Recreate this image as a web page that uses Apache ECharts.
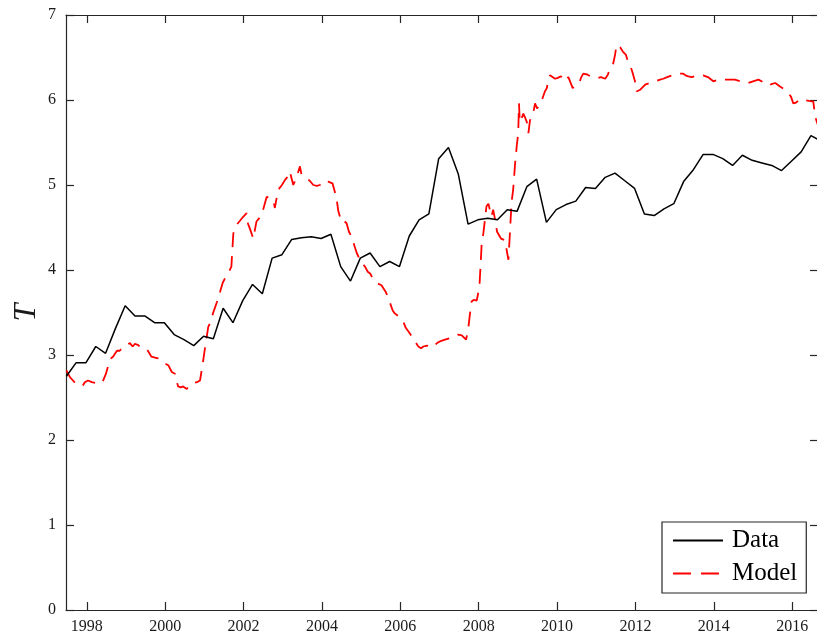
<!DOCTYPE html>
<html><head><meta charset="utf-8">
<script src="https://cdn.jsdelivr.net/npm/echarts@6/dist/echarts.min.js"></script>
<style>html,body{margin:0;padding:0;background:#fff}#c{width:817px;height:641px}</style>
</head><body><div id="c"></div>
<script>
// ---- chart data ----
const xTickYears = [1998, 2000, 2002, 2004, 2006, 2008, 2010, 2012, 2014, 2016];
const yTickValues = [0, 1, 2, 3, 4, 5, 6, 7];
const seriesNames = ['Data', 'Model'];

// "Data": quarterly observations starting 1997.48
const dataStartYear = 1997.48;
const dataStepYears = 0.25;
const dataValues = [
  2.75, 2.91, 2.91, 3.10, 3.02, 3.31, 3.58, 3.46, 3.46, 3.38,
  3.38, 3.24, 3.18, 3.11, 3.22, 3.19, 3.55, 3.38, 3.64, 3.83,
  3.72, 4.14, 4.18, 4.36, 4.38, 4.39, 4.37, 4.42, 4.04, 3.87,
  4.14, 4.20, 4.04, 4.10, 4.04, 4.40, 4.59, 4.66, 5.31, 5.44,
  5.13, 4.54, 4.59, 4.61, 4.59, 4.71, 4.69, 4.98, 5.07, 4.56,
  4.71, 4.77, 4.81, 4.97, 4.96, 5.09, 5.14, 5.05, 4.96, 4.66,
  4.64, 4.72, 4.78, 5.04, 5.18, 5.36, 5.36, 5.31, 5.23, 5.35,
  5.29, 5.26, 5.23, 5.17, 5.28, 5.39, 5.58, 5.52
];

// "Model": points
const modelYears = [
  1997.48, 1997.57, 1997.65, 1997.72, 1997.78, 1997.90, 1997.95, 1998.03, 1998.13, 1998.25,
  1998.33, 1998.41, 1998.49, 1998.59, 1998.67, 1998.77, 1998.84, 1998.94, 1999.02, 1999.10,
  1999.17, 1999.23, 1999.30, 1999.40, 1999.48, 1999.56, 1999.65, 1999.74, 1999.82, 1999.91,
  1999.99, 2000.08, 2000.17, 2000.25, 2000.33, 2000.40, 2000.46, 2000.55, 2000.63, 2000.71,
  2000.81, 2000.89, 2000.96, 2001.01, 2001.10, 2001.17, 2001.22, 2001.32, 2001.40, 2001.47,
  2001.57, 2001.63, 2001.69, 2001.74, 2001.78, 2001.82, 2001.91, 2001.98, 2002.08, 2002.11,
  2002.16, 2002.25, 2002.33, 2002.42, 2002.50, 2002.59, 2002.67, 2002.76, 2002.80, 2002.88,
  2002.98, 2003.06, 2003.13, 2003.18, 2003.27, 2003.36, 2003.44, 2003.48, 2003.54, 2003.61,
  2003.69, 2003.78, 2003.87, 2003.95, 2004.05, 2004.16, 2004.27, 2004.33, 2004.38, 2004.42,
  2004.50, 2004.56, 2004.63, 2004.69, 2004.76, 2004.84, 2004.89, 2004.97, 2005.02, 2005.10,
  2005.17, 2005.23, 2005.30, 2005.35, 2005.43, 2005.52, 2005.63, 2005.69, 2005.74, 2005.81,
  2005.86, 2005.97, 2006.08, 2006.14, 2006.25, 2006.35, 2006.46, 2006.53, 2006.59, 2006.68,
  2006.76, 2006.84, 2006.94, 2007.01, 2007.14, 2007.27, 2007.40, 2007.48, 2007.57, 2007.68,
  2007.74, 2007.78, 2007.82, 2007.88, 2007.95, 2008.02, 2008.08, 2008.12, 2008.20, 2008.25,
  2008.29, 2008.33, 2008.37, 2008.42, 2008.47, 2008.50, 2008.57, 2008.67, 2008.72, 2008.76,
  2008.80, 2008.84, 2008.88, 2008.93, 2008.97, 2009.01, 2009.03, 2009.05, 2009.11, 2009.14,
  2009.18, 2009.23, 2009.27, 2009.31, 2009.36, 2009.39, 2009.44, 2009.49, 2009.52, 2009.57,
  2009.63, 2009.69, 2009.74, 2009.77, 2009.82, 2009.87, 2009.95, 2010.02, 2010.10, 2010.20,
  2010.29, 2010.33, 2010.40, 2010.48, 2010.57, 2010.61, 2010.67, 2010.77, 2010.89, 2010.97,
  2011.05, 2011.12, 2011.23, 2011.30, 2011.35, 2011.40, 2011.43, 2011.48, 2011.52, 2011.61,
  2011.68, 2011.76, 2011.81, 2011.86, 2011.91, 2011.99, 2012.03, 2012.12, 2012.25, 2012.37,
  2012.50, 2012.63, 2012.71, 2012.81, 2012.93, 2013.04, 2013.14, 2013.22, 2013.32, 2013.44,
  2013.52, 2013.65, 2013.73, 2013.85, 2013.99, 2014.11, 2014.26, 2014.39, 2014.54, 2014.67,
  2014.77, 2014.88, 2015.00, 2015.14, 2015.26, 2015.39, 2015.49, 2015.57, 2015.69, 2015.82,
  2015.90, 2015.97, 2016.03, 2016.10, 2016.20, 2016.33, 2016.43, 2016.54, 2016.59, 2016.64,
  2016.70
];
const modelValues = [
  2.82, 2.74, 2.70, 2.66, 2.65, 2.64, 2.68, 2.70, 2.68, 2.67,
  2.70, 2.69, 2.78, 2.95, 2.98, 3.05, 3.05, 3.10, 3.12, 3.14,
  3.10, 3.13, 3.12, 3.08, 3.08, 3.05, 2.98, 2.97, 2.96, 2.92,
  2.90, 2.88, 2.80, 2.78, 2.63, 2.62, 2.63, 2.60, 2.64, 2.67,
  2.68, 2.70, 2.90, 3.06, 3.33, 3.40, 3.49, 3.62, 3.74, 3.85,
  3.94, 3.98, 4.04, 4.43, 4.45, 4.53, 4.58, 4.62, 4.67, 4.55,
  4.49, 4.37, 4.57, 4.62, 4.71, 4.86, 4.85, 4.82, 4.73, 4.94,
  5.00, 5.06, 5.10, 5.16, 5.00, 5.10, 5.22, 5.12, 5.10, 5.08,
  5.05, 5.00, 4.99, 5.00, 5.05, 5.04, 5.02, 4.92, 4.82, 4.69,
  4.57, 4.58, 4.55, 4.45, 4.39, 4.27, 4.20, 4.12, 4.08, 4.04,
  3.98, 3.96, 3.90, 3.88, 3.84, 3.82, 3.74, 3.68, 3.61, 3.52,
  3.49, 3.45, 3.39, 3.32, 3.25, 3.18, 3.10, 3.08, 3.10, 3.11,
  3.09, 3.10, 3.14, 3.16, 3.18, 3.20, 3.22, 3.24, 3.23, 3.18,
  3.33, 3.49, 3.63, 3.65, 3.64, 3.80, 4.33, 4.43, 4.75, 4.78,
  4.70, 4.63, 4.71, 4.59, 4.45, 4.43, 4.37, 4.35, 4.33, 4.12,
  4.45, 4.80, 4.94, 5.25, 5.45, 5.61, 5.96, 5.74, 5.80, 5.84,
  5.80, 5.74, 5.61, 5.76, 5.80, 5.84, 5.96, 5.90, 5.88, 5.95,
  6.02, 6.10, 6.14, 6.22, 6.29, 6.27, 6.25, 6.26, 6.28, 6.22,
  6.27, 6.25, 6.14, 6.17, 6.20, 6.26, 6.31, 6.30, 6.27, 6.27,
  6.26, 6.27, 6.25, 6.30, 6.38, 6.40, 6.42, 6.53, 6.65, 6.62,
  6.57, 6.53, 6.45, 6.41, 6.35, 6.22, 6.10, 6.12, 6.18, 6.20,
  6.22, 6.24, 6.25, 6.27, 6.29, 6.30, 6.31, 6.31, 6.28, 6.27,
  6.28, 6.28, 6.29, 6.27, 6.22, 6.24, 6.24, 6.24, 6.24, 6.22,
  6.21, 6.20, 6.22, 6.24, 6.21, 6.17, 6.19, 6.20, 6.16, 6.12,
  6.08, 6.04, 5.96, 5.97, 6.01, 6.00, 5.99, 5.98, 5.80, 5.73,
  5.65
];

// ---- build series points ----
const dataPoints = dataValues.map((v, i) => [dataStartYear + i * dataStepYears, v]);
const modelPoints = modelValues.map((v, i) => [modelYears[i], v]);

const axisColor = '#262626';
const serif = "'Liberation Serif', 'DejaVu Serif', serif";
const xMin = 1997.47, xMax = 2016.66;

const chart = echarts.init(document.getElementById('c'), null, { renderer: 'canvas' });
chart.setOption({
  animation: false,
  backgroundColor: '#fff',
  grid: { left: 66, right: -1, top: 15, bottom: 31, containLabel: false, outerBoundsMode: 'none' },
  xAxis: [
    {
      type: 'value', position: 'bottom', min: xMin, max: xMax,
      axisLine: { show: true, onZero: false, lineStyle: { color: axisColor, width: 1.2 } },
      axisTick: { show: true, inside: true, length: 8, customValues: xTickYears, lineStyle: { color: axisColor, width: 1.2 } },
      axisLabel: { show: true, customValues: xTickYears, margin: 9, color: '#1a1a1a', fontFamily: serif, fontSize: 16,
        formatter: v => String(Math.round(v)) },
      splitLine: { show: false }
    },
    {
      type: 'value', position: 'top', min: xMin, max: xMax,
      axisLine: { show: true, onZero: false, lineStyle: { color: axisColor, width: 1.2 } },
      axisTick: { show: true, inside: true, length: 8, customValues: xTickYears, lineStyle: { color: axisColor, width: 1.2 } },
      axisLabel: { show: false },
      splitLine: { show: false }
    }
  ],
  yAxis: [
    {
      type: 'value', position: 'left', min: yTickValues[0], max: yTickValues[yTickValues.length - 1], interval: 1,
      name: 'T', nameLocation: 'middle', nameGap: 23, nameRotate: 90, nameMoveOverlap: false,
      nameTextStyle: { fontFamily: serif, fontStyle: 'italic', fontSize: 32, color: '#1a1a1a' },
      axisLine: { show: true, onZero: false, lineStyle: { color: axisColor, width: 1.2 } },
      axisTick: { show: true, inside: true, length: 8, lineStyle: { color: axisColor, width: 1.2 } },
      axisLabel: { show: true, margin: 10, color: '#1a1a1a', fontFamily: serif, fontSize: 16 },
      splitLine: { show: false }
    },
    {
      type: 'value', position: 'right', min: yTickValues[0], max: yTickValues[yTickValues.length - 1], interval: 1,
      axisLine: { show: true, onZero: false, lineStyle: { color: axisColor, width: 1.2 } },
      axisTick: { show: true, inside: true, length: 8, lineStyle: { color: axisColor, width: 1.2 } },
      axisLabel: { show: false },
      splitLine: { show: false }
    }
  ],
  legend: {
    orient: 'vertical', left: 662, top: 522,
    padding: [6, 9, 7, 10], itemGap: 8, itemWidth: 50, itemHeight: 14,
    backgroundColor: '#fff', borderColor: axisColor, borderWidth: 1.2, borderRadius: 0,
    itemStyle: { opacity: 0 },
    textStyle: { fontFamily: serif, fontSize: 25, color: '#000', lineHeight: 24, padding: [0, 0, 0, 4] },
    data: [
      { name: seriesNames[0] },
      { name: seriesNames[1], lineStyle: { type: [18, 10] } }
    ]
  },
  series: [
    {
      name: seriesNames[0], type: 'line', xAxisIndex: 0, yAxisIndex: 0,
      data: dataPoints, symbol: 'none', showSymbol: false, clip: true, z: 3,
      lineStyle: { color: '#000', width: 1.5 }, itemStyle: { color: '#000' }
    },
    {
      name: seriesNames[1], type: 'line', xAxisIndex: 0, yAxisIndex: 0,
      data: modelPoints, symbol: 'none', showSymbol: false, clip: true, z: 2,
      lineStyle: { color: '#ff0000', width: 1.8, type: [15, 9] }, itemStyle: { color: '#ff0000' }
    }
  ]
});
</script>
</body></html>
